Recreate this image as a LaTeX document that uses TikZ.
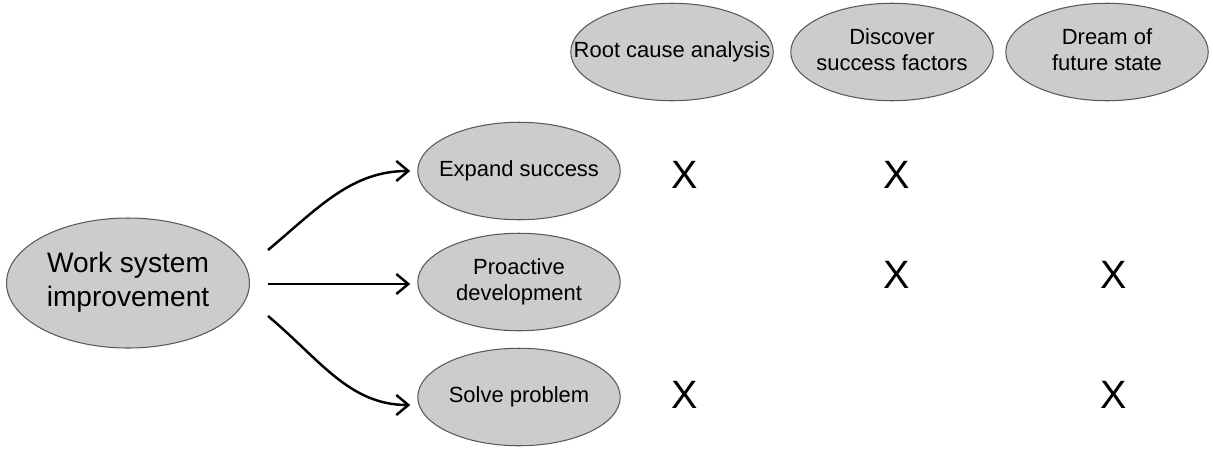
\documentclass[tikz,border=0pt]{standalone}
\usepackage{fontspec}
\setmainfont{Liberation Sans}
\usetikzlibrary{shapes,arrows.meta,positioning,calc}

% text of an oval, kept out of the oval's size
\newcommand{\ovaltext}[1]{\makebox[0pt]{\begin{tabular}{@{}c@{}}#1\end{tabular}}}

\begin{document}
\begin{tikzpicture}[
  x=0.02cm, y=-0.02cm,
  oval/.style={ellipse, draw=black!65, line width=0.6pt, fill=gray!40, inner sep=0pt, minimum width=4.05cm, minimum height=1.95cm, font=\fontsize{12.5}{14.8}\selectfont},
  bigoval/.style={oval, minimum width=4.86cm, minimum height=2.6cm, font=\fontsize{16}{19}\selectfont},
  tick/.style={font=\fontsize{22.5}{26}\selectfont},
  arrow/.style={-{Straight Barb[length=2.4mm, width=4mm]}, line width=1.4pt, shorten >=0.14cm}
]
  \useasboundingbox (0,0) rectangle (1213,450);
  % columns
  \node[oval] (rca) at (672,52) {\ovaltext{Root cause analysis}};
  \node[oval] (dsf) at (892,52) {\ovaltext{Discover\\success factors}};
  \node[oval] (dfs) at (1107,52) {\ovaltext{Dream of\\future state}};
  % source and rows
  \node[bigoval] (wsi) at (128,283) {\ovaltext{Work system\\improvement}};
  \node[oval] (exp) at (519,171) {\ovaltext{Expand success}};
  \node[oval] (pro) at (519,282) {\ovaltext{Proactive\\development}};
  \node[oval] (sol) at (519,397) {\ovaltext{Solve problem}};
  % arrow starts
  \coordinate (s1) at ($(wsi.east)+(18,-33)$);
  \coordinate (s2) at ($(wsi.east)+(18,1)$);
  \coordinate (s3) at ($(wsi.east)+(18,33)$);
  \draw[arrow] (s1) to[out=40, in=180] (exp.west);
  \draw[arrow] (s2) -- (s2 -| pro.west);
  \draw[arrow] (s3) to[out=-40, in=180] ($(sol.west)+(0,8)$);
  % marks
  \node[tick] (x11) at (685,175) {X};
  \node[tick] (x12) at (897,175) {X};
  \node[tick] (x22) at (897,275) {X};
  \node[tick] (x23) at (1114,275) {X};
  \node[tick] (x31) at (685,395) {X};
  \node[tick] (x33) at (1114,395) {X};
\end{tikzpicture}
\end{document}
